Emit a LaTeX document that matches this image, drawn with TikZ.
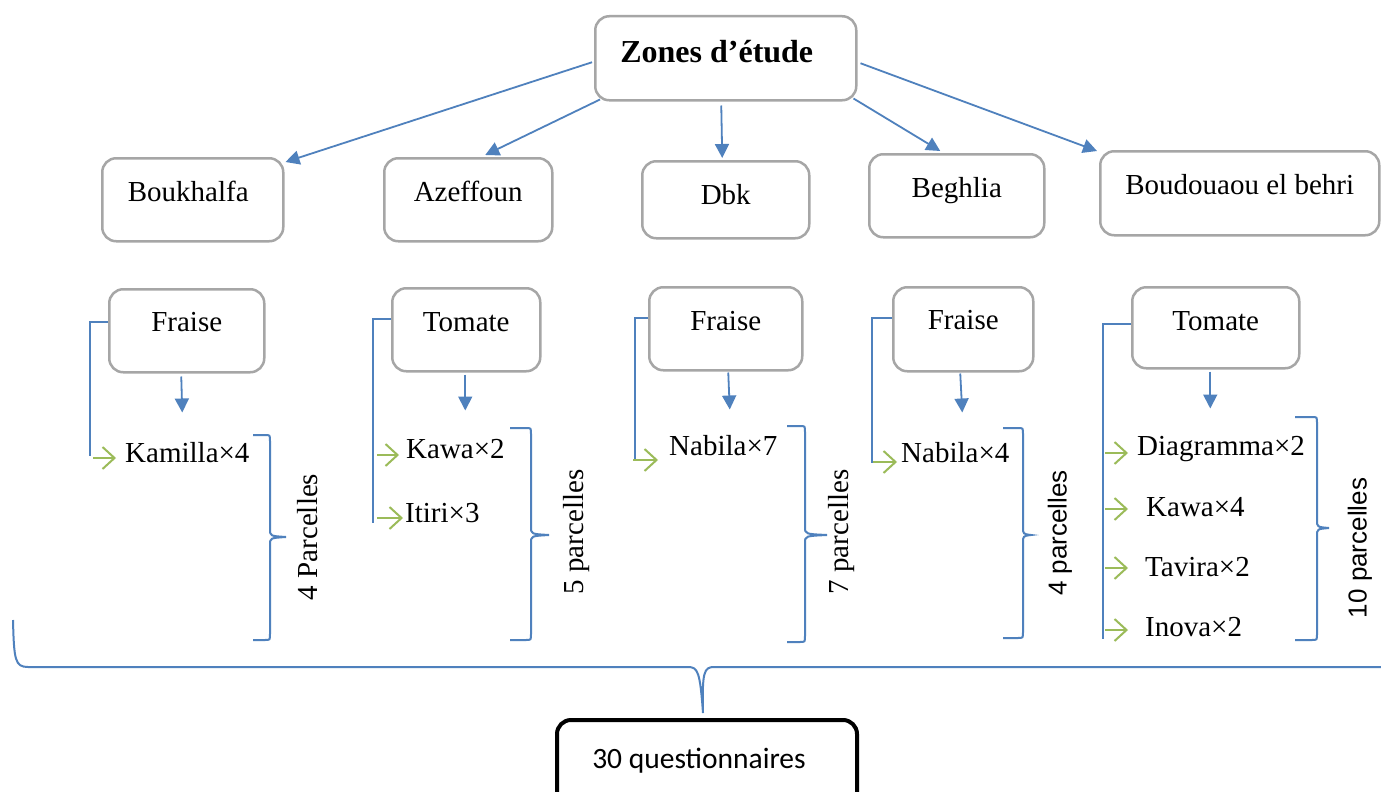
\documentclass[tikz,border=0pt]{standalone}
\usepackage{fontspec}
\setmainfont{Liberation Serif}
\newfontfamily\lsans{Liberation Sans}
\newfontfamily\calib{Carlito}
\usetikzlibrary{arrows.meta,calc}
\definecolor{wblue}{RGB}{79,129,189}
\definecolor{wgreen}{RGB}{155,187,89}
\definecolor{boxgray}{RGB}{166,166,166}
\newcommand{\drawbrace}[6]{%
  \draw[braceline] (#1,#2) -- (#3-5,#2) .. controls (#3,#2) .. (#3,#2+6)
    -- (#3,#4-8) .. controls (#3,#4-1) .. (#5,#4)
    .. controls (#3,#4+1) .. (#3,#4+8)
    -- (#3,#6-6) .. controls (#3,#6) .. (#3-5,#6) -- (#1,#6);}
\begin{document}
\begin{tikzpicture}[x=1pt,y=-1pt,
  ser/.style={font=\fontsize{29}{34}\selectfont},
  sansl/.style={font=\lsans\fontsize{26}{31}\selectfont},
  gbox/.style={draw=boxgray, line width=2.5pt, rounded corners=14pt, inner sep=0pt,
    anchor=north west, fill=white, ser},
  gb/.style n args={3}{minimum width=#1pt, text height=#2pt, text depth=#3pt},
  item/.style={ser, inner sep=0pt, anchor=base west},
  barrow/.style={draw=wblue, line width=1.8pt, -{Triangle[length=14pt,width=14pt]}},
  bline/.style={draw=wblue, line width=1.8pt},
  garrow/.style={draw=wgreen, line width=2pt, -{Straight Barb[length=12pt,width=22pt]}},
  braceline/.style={draw=wblue, line width=2pt},
  vlab/.style={rotate=90, inner sep=0pt}
]
\useasboundingbox (0,0) rectangle (1381,792);
\fill[white] (0,0) rectangle (1381,792);
\clip (0,0) rectangle (1381,792);

% top node
\node[gbox, gb={261}{46}{38}, font=\bfseries\fontsize{32}{38}\selectfont] (zones) at (594,15) {Zones d’étude\hspace*{18pt}};

% zone boxes
\node[gbox, gb={181}{43}{40}] (b1) at (101,157) {Boukhalfa\hspace*{9pt}};
\node[gbox, gb={168}{43}{40}] (b2) at (383,157) {Azeffoun};
\node[gbox, gb={167}{43}{34}] (b3) at (641,160) {Dbk};
\node[gbox, gb={175}{43}{40}] (b4) at (868,153) {Beghlia};
\node[gbox, gb={279}{43}{41}] (b5) at (1099,150) {Boudouaou el behri};

% top arrows
\draw[barrow] ([shift={(-2pt,-4pt)}]zones.west) -- ([shift={(1pt,-5pt)}]b1.north east);
\draw[barrow] ([shift={(6pt,2pt)}]zones.south west) -- ([shift={(17pt,2pt)}]b2.north);
\draw[barrow] ([shift={(-4.5pt,-4pt)}]zones.south) -- ([shift={(-3.5pt,2pt)}]b3.north);
\draw[barrow] ([shift={(-4pt,3pt)}]zones.south east) -- ([shift={(-16.5pt,2pt)}]b4.north);
\draw[barrow] ([shift={(3pt,-5pt)}]zones.east) -- ([shift={(-2pt,-1pt)}]b5.north west);

% crop boxes
\node[gbox, gb={155}{42}{41}] (c1) at (108,288) {Fraise};
\node[gbox, gb={148}{43}{40}] (c2) at (391,287) {Tomate};
\node[gbox, gb={153}{43}{40}] (c3) at (648,286) {Fraise};
\node[gbox, gb={140}{42}{42}] (c4) at (892,286) {Fraise};
\node[gbox, gb={167}{43}{38}] (c5) at (1131,286) {Tomate};

% down arrows
\draw[barrow] ([shift={(-5.5pt,-3pt)}]c1.south) -- ++(1,36);
\draw[barrow] ([shift={(-1pt,-2pt)}]c2.south) -- ++(0,36);
\draw[barrow] ([shift={(2.5pt,-1pt)}]c3.south) -- ++(1.5,37);
\draw[barrow] ([shift={(-3pt,-1pt)}]c4.south) -- ++(2,39);
\draw[barrow] ([shift={(-5.5pt,-2pt)}]c5.south) -- ++(0,37);

% variety items
\node[item] (k1) at (125,462) {Kamilla×4};
\node[item] (k2) at (406,458) {Kawa×2};
\node[item] (k3) at (405,522) {Itiri×3};
\node[item] (k4) at (669,455) {Nabila×7};
\node[item] (k5) at (901,462) {Nabila×4};
\node[item] (k6) at (1137,455) {Diagramma×2};
\node[item] (k7) at (1146,516) {Kawa×4};
\node[item] (k8) at (1145,576) {Tavira×2};
\node[item] (k9) at (1145,636) {Inova×2};

% left bracket lines
\draw[bline] ([yshift=8.5pt]c1.west) -- ++(-18,0) -- ++(0,134);
\draw[bline] ([yshift=10.5pt]c2.west) -- ++(-18,0) -- ++(0,204);
\draw[bline] ([yshift=10.5pt]c3.west) -- ++(-13,0) -- ++(0,141);
\draw[bline] ([yshift=11pt]c4.west) -- ++(-20,0) -- ++(0,145);
\draw[bline] ([yshift=3.5pt]c5.west) -- ++(-28,0) -- ++(0,315);

% green arrows
\draw[garrow] ([shift={(-32pt,4pt)}]k1.base west) -- ([shift={(-9pt,4pt)}]k1.base west);
\draw[garrow] ([shift={(-29pt,3pt)}]k2.base west) -- ([shift={(-7pt,3pt)}]k2.base west);
\draw[garrow] ([shift={(-28pt,4pt)}]k3.base west) -- ([shift={(-2pt,4pt)}]k3.base west);
\draw[garrow] ([shift={(-36pt,-5pt)}]k4.base west) -- ([shift={(-11pt,-5pt)}]k4.base west);
\draw[garrow] ([shift={(-28pt,0pt)}]k5.base west) -- ([shift={(-4pt,0pt)}]k5.base west);
\draw[garrow] ([shift={(-32pt,2pt)}]k6.base west) -- ([shift={(-9pt,2pt)}]k6.base west);
\draw[garrow] ([shift={(-41pt,7pt)}]k7.base west) -- ([shift={(-18pt,7pt)}]k7.base west);
\draw[garrow] ([shift={(-40pt,8pt)}]k8.base west) -- ([shift={(-17pt,8pt)}]k8.base west);
\draw[garrow] ([shift={(-40pt,6pt)}]k9.base west) -- ([shift={(-17pt,6pt)}]k9.base west);

% right braces
\drawbrace{253}{435}{270}{537}{286}{640}
\drawbrace{510}{428}{531}{535}{549}{640}
\drawbrace{787}{426}{805}{535}{827}{642}
\drawbrace{1003}{428}{1023}{535}{1031}{638}
\drawbrace{1295}{417}{1317}{528}{1329}{640}

% brace labels
\node[vlab, ser] (l1) at (308,537) {4 Parcelles};
\node[vlab, ser] (l2) at (577,532) {5 parcelles};
\node[vlab, ser] (l3) at (842,532) {7 parcelles};
\node[vlab, sansl] (l4) at (1060,533) {4 parcelles};
\node[vlab, sansl] (l5) at (1360,548) {10 parcelles};

% result box
\node[draw=black, line width=4pt, rounded corners=14pt, inner sep=0pt, anchor=north west,
  minimum width=300pt, text height=48pt, text depth=44pt,
  font=\calib\fontsize{29.5}{34}\selectfont] (q) at (555,718) {30 questionnaires\hspace*{16pt}};
\coordinate (qtip) at ([shift={(-4pt,5pt)}]q.north);

% big bottom brace
\draw[braceline] (13,620) .. controls (14,660) and (15,667) .. (28,667) -- (688,667)
  .. controls (698,667) and (700,672) .. (qtip)
  .. controls (702,672) and (704,667) .. (714,667) -- (1390,667);
\end{tikzpicture}
\end{document}
